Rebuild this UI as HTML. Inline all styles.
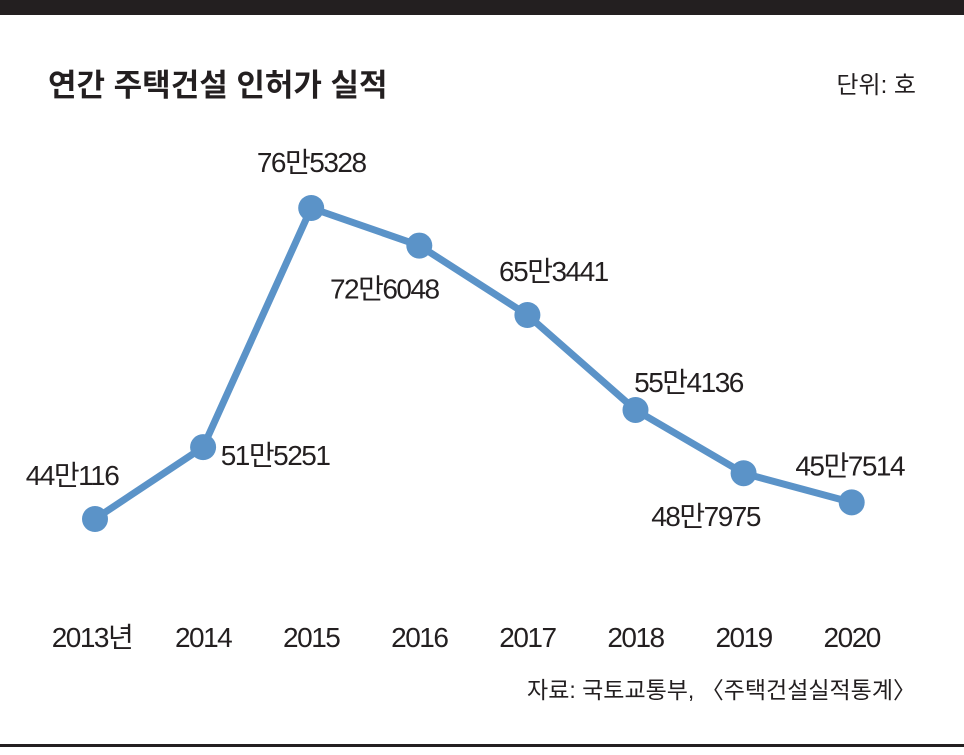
<!DOCTYPE html>
<html><head><meta charset="utf-8"><style>
body{margin:0;background:#fff;}
svg text{font-family:"Liberation Sans","Noto Sans CJK KR",sans-serif;fill:#231f20;}
</style></head><body>
<svg width="964" height="750" viewBox="0 0 964 750">
<rect x="0" y="0" width="964" height="15" fill="#231f20"/>
<text x="48" y="96" font-size="31" font-weight="bold">연간 주택건설 인허가 실적</text>
<text x="916" y="93" font-size="24" text-anchor="end">단위: 호</text>
<g id="plot"></g>
<text x="916" y="698" font-size="23" text-anchor="end">자료: 국토교통부, 〈주택건설실적통계〉</text>
<rect x="0" y="744" width="964" height="3" fill="#231f20"/>
</svg>
<script>
const years = ["2013년","2014","2015","2016","2017","2018","2019","2020"];
const values = [440116,515251,765328,726048,653441,554136,487975,457514];
const valueLabels = ["44만116","51만5251","76만5328","72만6048","65만3441","55만4136","48만7975","45만7514"];
const labelDx = [-23,72,0,-35,26,53,-38,-2];
const labelDy = [-34,18,-36,53,-34,-18,53,-27];
const ns="http://www.w3.org/2000/svg";
const g=document.getElementById('plot');
function x(i){return 95+i*108.1;}
function y(v){return 519-(v-440116)*0.0009563;}
const pl=document.createElementNS(ns,'polyline');


pl.setAttribute('points',values.map((v,i)=>x(i)+','+y(v)).join(' '));
pl.setAttribute('fill','none');pl.setAttribute('stroke','#5b93c8');pl.setAttribute('stroke-width','7');pl.setAttribute('stroke-linejoin','round');
g.appendChild(pl);
values.forEach((v,i)=>{
 const c=document.createElementNS(ns,'circle');
 
 
 c.setAttribute('cx',x(i));c.setAttribute('cy',y(v));c.setAttribute('r','13');c.setAttribute('fill','#5b93c8');
 g.appendChild(c);
 const t=document.createElementNS(ns,'text');
 
 
 t.setAttribute('x',x(i)+labelDx[i]);t.setAttribute('y',y(v)+labelDy[i]);
 t.setAttribute('font-size','28');t.setAttribute('text-anchor','middle');t.setAttribute('letter-spacing','-1.5');
 t.textContent=valueLabels[i];g.appendChild(t);
 const yl=document.createElementNS(ns,'text');
 
 
 yl.setAttribute('x',x(i)+(i==0?-3:0));yl.setAttribute('y',647);
 yl.setAttribute('font-size','28');yl.setAttribute('text-anchor','middle');yl.setAttribute('letter-spacing','-1.5');
 yl.textContent=years[i];g.appendChild(yl);
});
</script>
</body></html>
